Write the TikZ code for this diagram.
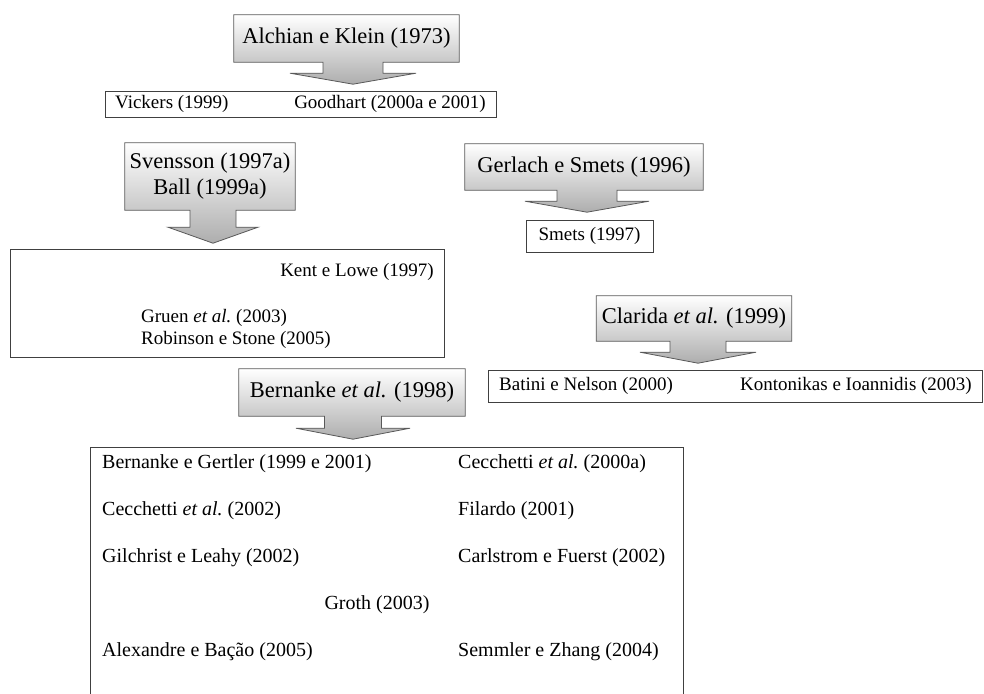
\documentclass[tikz,border=0pt]{standalone}
\usepackage{fontspec}
\setmainfont{Liberation Serif}
\usetikzlibrary{calc,backgrounds}
% #1 node, #2 x offset of arrow axis, #3 stem half width, #4 stem length, #5 wing half width, #6 head length
\newcommand{\dncallout}[6]{%
  \path[callshade] (#1.north west) -- (#1.north east) -- (#1.south east)
   -- ($(#1.south)+(#2+#3,0)$) -- ($(#1.south)+(#2+#3,#4)$) -- ($(#1.south)+(#2+#5,#4)$)
   -- ($(#1.south)+(#2,#4+#6)$) -- ($(#1.south)+(#2-#5,#4)$) -- ($(#1.south)+(#2-#3,#4)$)
   -- ($(#1.south)+(#2-#3,0)$) -- (#1.south west) -- cycle;}
\begin{document}
\begin{tikzpicture}[x=1pt,y=-1pt,
  callbox/.style={rectangle, inner sep=0pt, font=\fontsize{22.5}{26}\selectfont, align=center},
  callshade/.style={draw=black!65, line width=0.8pt, top color=white, bottom color=black!32},
  listbox/.style={rectangle, draw=black!75, line width=0.8pt, inner sep=0pt},
  listtext/.style={inner sep=0pt, font=\fontsize{19}{22}\selectfont},
  bottext/.style={inner sep=0pt, font=\fontsize{20}{23}\selectfont}]
\useasboundingbox (0,0) rectangle (984,693);
\clip (0,0) rectangle (984,693);

% callout boxes
\node[callbox, minimum width=225pt, minimum height=47pt] (alch) at (346.5,38.5) {Alchian e Klein (1973)};
\node[callbox, minimum width=170pt, minimum height=67pt] (sven) at (210,176.5) {Svensson (1997a)\\Ball (1999a)};
\node[callbox, minimum width=238pt, minimum height=46pt] (gerl) at (584,167) {Gerlach e Smets (1996)};
\node[callbox, minimum width=195pt, minimum height=45pt] (clar) at (694,318.5) {Clarida \textit{et al.} (1999)};
\node[callbox, minimum width=226pt, minimum height=47pt] (bern) at (352,392.5) {Bernanke \textit{et al.} (1998)};

\begin{scope}[on background layer]
\dncallout{alch}{6.5}{30}{11}{63}{11}
\dncallout{sven}{3}{23}{17}{45}{16}
\dncallout{gerl}{3}{30}{11}{62}{11}
\dncallout{clar}{4}{28}{11}{58}{11}
\dncallout{bern}{1}{28.5}{12}{57}{11}
\end{scope}

% list boxes
\node[listbox, minimum width=391pt, minimum height=26pt] (vick) at (300.5,104) {};
\node[listtext, anchor=west] (vick1) at (115,104) {Vickers (1999)};
\node[listtext, anchor=east] (vick2) at (486,104) {Goodhart (2000a e 2001)};

\node[listbox, minimum width=434pt, minimum height=108pt, anchor=north west] (kent) at (10,249) {};
\node[listtext, anchor=east] (kent1) at (434,272) {Kent e Lowe (1997)};
\node[listtext, anchor=west] (kent2) at (141,318) {Gruen \textit{et al.}\ (2003)};
\node[listtext, anchor=west] (kent3) at (141,340) {Robinson e Stone (2005)};

\node[listbox, minimum width=127pt, minimum height=32pt, listtext] (smets) at (589.5,236) {Smets (1997)};

\node[listbox, minimum width=494pt, minimum height=32pt, anchor=north west] (bat) at (488,370) {};
\node[listtext, anchor=west] (bat1) at (499,386) {Batini e Nelson (2000)};
\node[listtext, anchor=east] (bat2) at (972,386) {Kontonikas e Ioannidis (2003)};

\node[listbox, minimum width=593pt, minimum height=260pt, anchor=north west] (bot) at (90,447) {};
\node[bottext, anchor=west] (b1) at (102,464) {Bernanke e Gertler (1999 e 2001)};
\node[bottext, anchor=west] (b2) at (458,464) {Cecchetti \textit{et al.}\ (2000a)};
\node[bottext, anchor=west] (b3) at (102,511) {Cecchetti \textit{et al.}\ (2002)};
\node[bottext, anchor=west] (b4) at (458,511) {Filardo (2001)};
\node[bottext, anchor=west] (b5) at (102,558) {Gilchrist e Leahy (2002)};
\node[bottext, anchor=west] (b6) at (458,558) {Carlstrom e Fuerst (2002)};
\node[bottext] (b7) at (377,605) {Groth (2003)};
\node[bottext, anchor=west] (b8) at (102,652) {Alexandre e Bação (2005)};
\node[bottext, anchor=west] (b9) at (458,652) {Semmler e Zhang (2004)};
\end{tikzpicture}
\end{document}
